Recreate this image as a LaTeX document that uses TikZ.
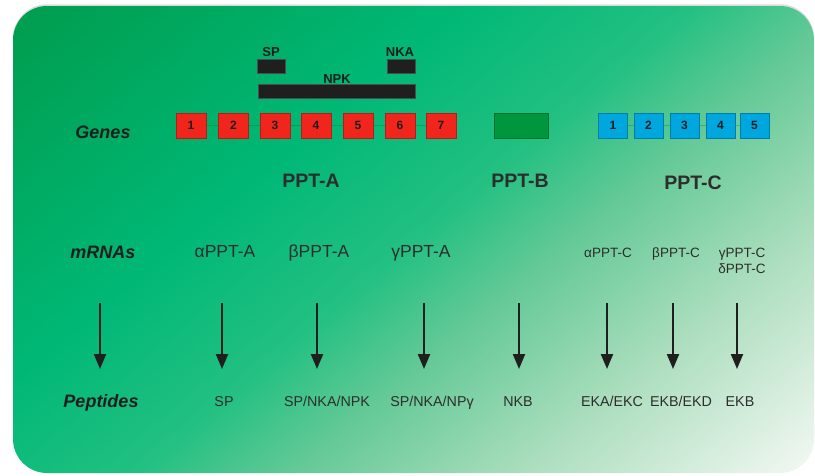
\documentclass[tikz,border=0pt]{standalone}
\usepackage{fontspec}
\setmainfont{Liberation Sans}
\usetikzlibrary{arrows.meta}

% background gradient colours
\definecolor{g0}{RGB}{0,155,75}
\definecolor{g1}{RGB}{0,184,118}
\definecolor{g2}{RGB}{35,192,130}
\definecolor{g3}{RGB}{100,201,150}
\definecolor{g4}{RGB}{172,222,190}
\definecolor{g5}{RGB}{246,249,245}
\definecolor{genered}{RGB}{240,38,28}
\definecolor{geneblue}{RGB}{0,166,222}
\definecolor{genegreen}{RGB}{0,150,62}
\definecolor{ink}{RGB}{30,30,30}
\definecolor{inkgray}{RGB}{45,45,45}

\pgfdeclarehorizontalshading{bggrad}{100bp}{%
  color(0bp)=(g0); color(27.5bp)=(g0); color(42.5bp)=(g1);
  color(50bp)=(g2); color(55bp)=(g3); color(62.5bp)=(g4);
  color(72bp)=(g5); color(100bp)=(g5)}

\newcommand{\fsz}[1]{\fontsize{#1}{#1}\selectfont}

\begin{document}
\begin{tikzpicture}[x=1pt,y=-1pt,
  genebox/.style={draw=#1!75!black, line width=0.5pt, fill=#1,
    minimum height=25pt, inner sep=0pt, text=ink,
    font=\bfseries\fsz{12}},
  redbox/.style={genebox=genered, minimum width=30pt},
  bluebox/.style={genebox=geneblue, minimum width=29pt},
  bar/.style={fill=black!88, draw=black!70, line width=0.4pt,
    minimum height=14pt, inner sep=0pt},
  barlabel/.style={anchor=base, inner sep=0pt, text=ink,
    font=\bfseries\fsz{13}},
  rowlabel/.style={anchor=base, inner sep=0pt, text=ink,
    font=\bfseries\itshape\fsz{18}},
  genelabel/.style={anchor=base, inner sep=0pt, text=inkgray,
    font=\bfseries\fsz{19.5}},
  mrnaA/.style={anchor=base, inner sep=0pt, text=inkgray, font=\fsz{17.5}},
  mrnaC/.style={anchor=base, inner sep=0pt, text=inkgray, font=\fsz{13.5}},
  pept/.style={anchor=base, inner sep=0pt, text=inkgray, font=\fsz{14.3}},
  arr/.style={draw=black!88, line width=2.2pt,
    -{Triangle[width=12pt,length=15pt]}},
  linker/.style={draw=black!30!genegreen, line width=1pt, opacity=0.3}
]
\useasboundingbox (0,0) rectangle (815,475);

% panel with a faint shadow along its top
\fill[black!14, rounded corners=34pt] (13,4.3) rectangle (814,470);
\begin{scope}
  \clip[rounded corners=34pt] (13,6) rectangle (814,473);
  \shade[shading=bggrad, shading angle=-50] (-86,-260) rectangle (914,740);
\end{scope}

% peptide regions encoded by PPT-A
\node[bar, minimum width=28pt]  (spbar)  at (271,66) {};
\node[bar, minimum width=28pt]  (nkabar) at (401,66) {};
\node[bar, minimum width=157pt] (npkbar) at (336.5,91) {};
\node[barlabel] (splab)  at (271,56.5) {SP};
\node[barlabel] (nkalab) at (400,56.5) {NKA};
\node[barlabel] (npklab) at (337,83.5) {NPK};

% PPT-A exons
\draw[linker] (191,125.5) -- (441,125.5);
\node[redbox] (a1) at (191,125.5) {1};
\node[redbox] (a2) at (233.5,125.5) {2};
\node[redbox] (a3) at (275,125.5) {3};
\node[redbox] (a4) at (316,125.5) {4};
\node[redbox] (a5) at (358,125.5) {5};
\node[redbox] (a6) at (400,125.5) {6};
\node[redbox] (a7) at (441,125.5) {7};

% PPT-B
\node[genebox=genegreen, minimum width=54pt] (b1) at (521,125.5) {};

% PPT-C exons
\draw[linker] (613,125.5) -- (754.5,125.5);
\node[bluebox] (c1) at (613,125.5) {1};
\node[bluebox] (c2) at (648.5,125.5) {2};
\node[bluebox] (c3) at (684.5,125.5) {3};
\node[bluebox] (c4) at (720.5,125.5) {4};
\node[bluebox] (c5) at (754.5,125.5) {5};

% row titles
\node[rowlabel] (genes) at (103,138.5) {Genes};
\node[rowlabel] (mrnas) at (103,258.5) {mRNAs};
\node[rowlabel] (peps)  at (101,407.5) {Peptides};

% gene names
\node[genelabel] (ppta) at (311,187) {PPT-A};
\node[genelabel] (pptb) at (520,187) {PPT-B};
\node[genelabel] (pptc) at (693,189) {PPT-C};

% transcripts
\node[mrnaA] (ma) at (225,257) {αPPT-A};
\node[mrnaA] (mb) at (319,257) {βPPT-A};
\node[mrnaA] (mg) at (421,257) {γPPT-A};
\node[mrnaC] (ca) at (608,257) {αPPT-C};
\node[mrnaC] (cb) at (676,257) {βPPT-C};
\node[mrnaC] (cg) at (742,257) {γPPT-C};
\node[mrnaC] (cd) at (742,273) {δPPT-C};

% peptide products
\node[pept] (p1) at (224,406) {SP};
\node[pept] (p2) at (327,406) {SP/NKA/NPK};
\node[pept] (p3) at (432,406) {SP/NKA/NPγ};
\node[pept] (p4) at (518,406) {NKB};
\node[pept] (p5) at (612,406) {EKA/EKC};
\node[pept] (p6) at (681,406) {EKB/EKD};
\node[pept] (p7) at (740,406) {EKB};

% processing arrows
\foreach \i/\x in {0/100,1/222,2/317,3/424,4/519,5/607,6/673,7/737}{
  \coordinate (s\i) at (\x,303);
  \coordinate (e\i) at (\x,369);
  \draw[arr] (s\i) -- (e\i);
}
\end{tikzpicture}
\end{document}
